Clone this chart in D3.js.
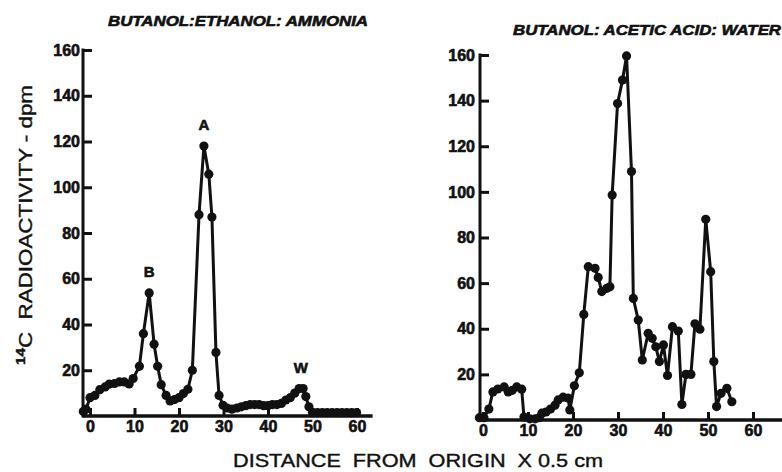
<!DOCTYPE html>
<html>
  <head>
    <meta charset="utf-8">
    <title>14C radioactivity chromatograms</title>
    <script src="https://d3js.org/d3.v7.min.js"></script>
    <style>
      body { margin: 0; background: #fff; }
      svg { display: block; }
      text { font-family: "Liberation Sans", Arial, sans-serif; fill: #111; }
    </style>
  </head>
  <body>
    <svg id="chart" width="782" height="472"></svg>
    <script>
      // data (distance x 0.5 cm, dpm)
      var leftX = [-1.5, -0.9, 0, 1.1, 2.2, 3.4, 4.3, 5.5, 6.6, 7.7, 8.8, 9.7, 11.1, 12, 13.3, 14.4, 15.2, 16, 17.1, 18, 19, 20, 21, 22, 23,
        24.5, 25.6, 26.7, 27.4, 28.3, 29, 29.9, 30.8, 31.9, 33, 34, 35, 36, 37, 38, 39, 40, 41, 42, 43, 44, 45, 46, 47, 47.9, 48.5, 49.2,
        50, 51.1, 52.2, 53.3, 54.4, 55.5, 56.6, 57.7, 58.8, 59.9];
      var leftY = [2, 3, 8, 9, 11.5, 12.7, 13.9, 14.2, 14.9, 14.9, 14, 16.4, 21.7, 36, 53.8, 31.4, 21.7, 13.7, 9, 6.6, 7.2, 8, 9.8, 11.7, 20,
        88, 118, 105.7, 87, 27.8, 9, 4.7, 3.5, 3, 3.5, 4, 4.5, 5, 5, 5, 4.5, 4.5, 5, 5, 5.5, 7, 8, 10, 12, 12, 8.5, 4,
        1.5, 1.5, 1.5, 1.5, 1.5, 1.5, 1.5, 1.5, 1.5, 1.5];
      var rightX = [-0.8, 0.2, 1.3, 2.2, 3.3, 4.7, 5.6, 6.5, 7.5, 8.6, 9.1, 10.4, 11.6, 12.5, 13.1, 14, 15, 16, 16.7, 17.8, 18.9, 19.3,
        20.3, 21.4, 22.4, 23.4, 24.9, 25.6, 26.4, 27.5, 28.2, 28.7, 29.9, 31, 31.9, 33, 33.4, 34.5, 35.4, 36.7, 37.6, 38.4, 39.2,
        40.1, 41, 42.1, 43.4, 44.2, 45.1, 46.2, 47.1, 48.2, 49.5, 50.6, 51.3, 51.9, 52.9, 54.2, 55.3];
      var rightY = [1, 1, 4.8, 12.3, 13.6, 14.5, 12.3, 13, 14.5, 13.5, 1.3, 0.5, 0.5, 1, 3, 3.5, 4.8, 6.5, 8.8, 10, 9.6, 4.4,
        15, 20.7, 46.3, 67.2, 66.5, 62.5, 56.3, 57.7, 58.4, 98.6, 138.7, 149, 159.6, 108.9, 53.3, 43.8, 26.3, 38, 35.8, 32.1, 25.6,
        32.9, 19.5, 40.9, 39, 6.8, 20, 20, 42.2, 39.8, 88, 65, 25.6, 5.9, 11.7, 13.9, 8];
      var peakLabels = ["B", "A", "W"];
      var peakX = [13.3, 25.6, 47.4];
      var peakY = [53.8, 118, 12];
      var xTicks = [0, 10, 20, 30, 40, 50, 60];
      var yTicks = [20, 40, 60, 80, 100, 120, 140, 160];

      var svg = d3.select("#chart");

      var panels = [
        { title: "BUTANOL:ETHANOL: AMMONIA", xs: leftX, ys: leftY,
          x: d3.scaleLinear().domain([0, 60]).range([90, 357]),
          y: d3.scaleLinear().domain([0, 160]).range([416, 50]),
          axisX: 83, xStart: -1.6, xEnd: 63.5, titleX: 238, titleY: 26, titleLen: 260 },
        { title: "BUTANOL: ACETIC ACID: WATER", xs: rightX, ys: rightY,
          x: d3.scaleLinear().domain([0, 60]).range([483, 753]),
          y: d3.scaleLinear().domain([0, 160]).range([420, 55]),
          axisX: 480, xStart: -0.7, xEnd: 67, titleX: 647, titleY: 35, titleLen: 268 }
      ];

      // heavier lettering, like the original print
      function inked(sel, size) {
        sel.attr("font-size", size)
          .attr("font-weight", "bold")
          .attr("font-family", "Liberation Sans, Arial, sans-serif")
          .attr("stroke", "#111")
          .attr("stroke-width", 0.6);
      }

      panels.forEach(function(p, i) {
        var g = svg.append("g");

        // y axis, ticks pointing inward
        var yAxis = g.append("g")
          .attr("transform", "translate(" + p.axisX + ",0)")
          .call(d3.axisLeft(p.y).tickValues(yTicks).tickSize(-9).tickPadding(i ? 5 : 3));
        yAxis.select(".domain").remove();
        yAxis.selectAll("line").attr("stroke", "#111").attr("stroke-width", 3);
        inked(yAxis.selectAll("text"), 16);
        g.append("line")
          .attr("x1", p.axisX).attr("x2", p.axisX)
          .attr("y1", p.y(160) - 1.5).attr("y2", p.y(0) + 1.5)
          .attr("stroke", "#111").attr("stroke-width", 3);

        // x axis, ticks pointing up
        var xAxis = g.append("g")
          .attr("transform", "translate(0," + p.y(0) + ")")
          .call(d3.axisBottom(p.x).tickValues(xTicks).tickSize(-8).tickPadding(5));
        xAxis.select(".domain").remove();
        xAxis.selectAll("line").attr("stroke", "#111").attr("stroke-width", 3);
        inked(xAxis.selectAll("text"), 16);
        g.append("line")
          .attr("x1", p.x(p.xStart)).attr("x2", p.x(p.xEnd))
          .attr("y1", p.y(0)).attr("y2", p.y(0))
          .attr("stroke", "#111").attr("stroke-width", 3.5);

        // trace
        var pts = d3.zip(p.xs, p.ys);
        g.append("path")
          .datum(pts)
          .attr("fill", "none")
          .attr("stroke", "#111")
          .attr("stroke-width", 3)
          .attr("stroke-linejoin", "round")
          .attr("d", d3.line().x(function(d) { return p.x(d[0]); }).y(function(d) { return p.y(d[1]); }));
        g.selectAll(".dot")
          .data(pts)
          .enter().append("circle")
            .attr("cx", function(d) { return p.x(d[0]); })
            .attr("cy", function(d) { return p.y(d[1]); })
            .attr("r", 4.6)
            .attr("fill", "#111");

        // panel title
        var t = g.append("text")
          .attr("x", p.titleX)
          .attr("y", p.titleY)
          .attr("text-anchor", "middle")
          .attr("font-style", "italic")
          .attr("textLength", p.titleLen)
          .attr("lengthAdjust", "spacingAndGlyphs")
          .text(p.title);
        inked(t, 14);

        // peak letters on the left panel
        if (i === 0) {
          inked(g.selectAll(".peak")
            .data(peakLabels)
            .enter().append("text")
              .attr("x", function(d, j) { return p.x(peakX[j]); })
              .attr("y", function(d, j) { return p.y(peakY[j]) - 16; })
              .attr("text-anchor", "middle")
              .text(function(d) { return d; }), 15);
        }
      });

      // y axis label
      var yLab = svg.append("text")
        .attr("transform", "translate(32,225) rotate(-90)")
        .attr("text-anchor", "middle")
        .attr("font-size", 19)
        .attr("stroke", "#111")
        .attr("stroke-width", 0.4)
        .attr("textLength", 280)
        .attr("lengthAdjust", "spacingAndGlyphs");
      yLab.append("tspan").attr("font-size", 13).attr("font-weight", "bold").attr("dy", -7).text("14");
      yLab.append("tspan").attr("dy", 7).text("C\u00a0\u00a0RADIOACTIVITY - dpm");

      // x axis label
      svg.append("text")
        .attr("x", 418)
        .attr("y", 467)
        .attr("text-anchor", "middle")
        .attr("font-size", 19)
        .attr("stroke", "#111")
        .attr("stroke-width", 0.4)
        .attr("textLength", 370)
        .attr("lengthAdjust", "spacingAndGlyphs")
        .text("DISTANCE\u00a0\u00a0FROM\u00a0\u00a0ORIGIN\u00a0\u00a0X 0.5 cm");
    </script>
  </body>
</html>
